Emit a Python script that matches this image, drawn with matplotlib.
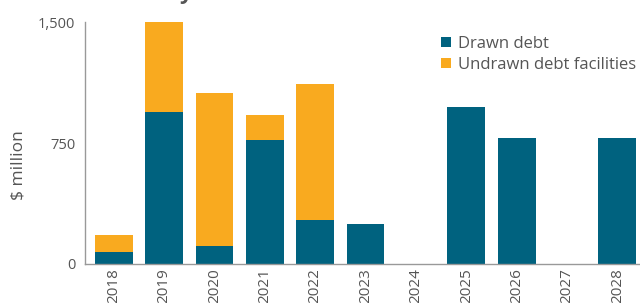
import numpy as np
import matplotlib
matplotlib.use("Agg")
import matplotlib.pyplot as plt

plt.rcParams["font.family"] = ["Open Sans", "DejaVu Sans"]

years = ["2018", "2019", "2020", "2021", "2022", "2023", "2024", "2025", "2026", "2027", "2028"]
drawn = [76, 942, 112, 769, 273, 248, 0, 975, 781, 0, 781]
undrawn = [104, 558, 948, 155, 843, 0, 0, 0, 0, 0, 0]

TEAL = "#00627f"
ORANGE = "#f9aa1f"
TEXT = "#555555"

fig = plt.figure(figsize=(6.4, 3.03), dpi=100)
ax = fig.add_axes([0.133, 0.129, 0.867, 0.798])

x = np.arange(len(years))
ax.bar(x, drawn, width=0.75, color=TEAL, label="Drawn debt")
ax.bar(x, undrawn, width=0.75, bottom=drawn, color=ORANGE, label="Undrawn debt facilities")

ax.set_xlim(-0.57, 10.45)
ax.set_ylim(0, 1500)
ax.set_yticks([0, 750, 1500])
ax.set_yticklabels(["0", "750", "1,500"])
ax.set_xticks(x)
ax.set_xticklabels(years, rotation=90)
ax.tick_params(length=0, labelsize=10.5, colors=TEXT)
ax.tick_params(axis="x", labelsize=11, pad=3)
ax.tick_params(axis="y", pad=7)

for s in ["top", "right"]:
    ax.spines[s].set_visible(False)
for s in ["left", "bottom"]:
    ax.spines[s].set_color("#999999")
    ax.spines[s].set_linewidth(1)

ax.set_ylabel("$ million", fontsize=12.5, color=TEXT)
ax.yaxis.set_label_coords(-0.105, 0.41)

ax.legend(loc="upper right", bbox_to_anchor=(1.005, 0.97), frameon=False, fontsize=12,
          labelcolor=TEXT, handlelength=0.6, handleheight=0.6, handletextpad=0.4,
          labelspacing=0.3, borderaxespad=0)

fig.text(0.055, 1 + 1 / 303, "Debt maturity", fontsize=16, fontweight="bold",
         color=TEXT, va="baseline", ha="left")

fig.savefig("out.png", dpi=100)
